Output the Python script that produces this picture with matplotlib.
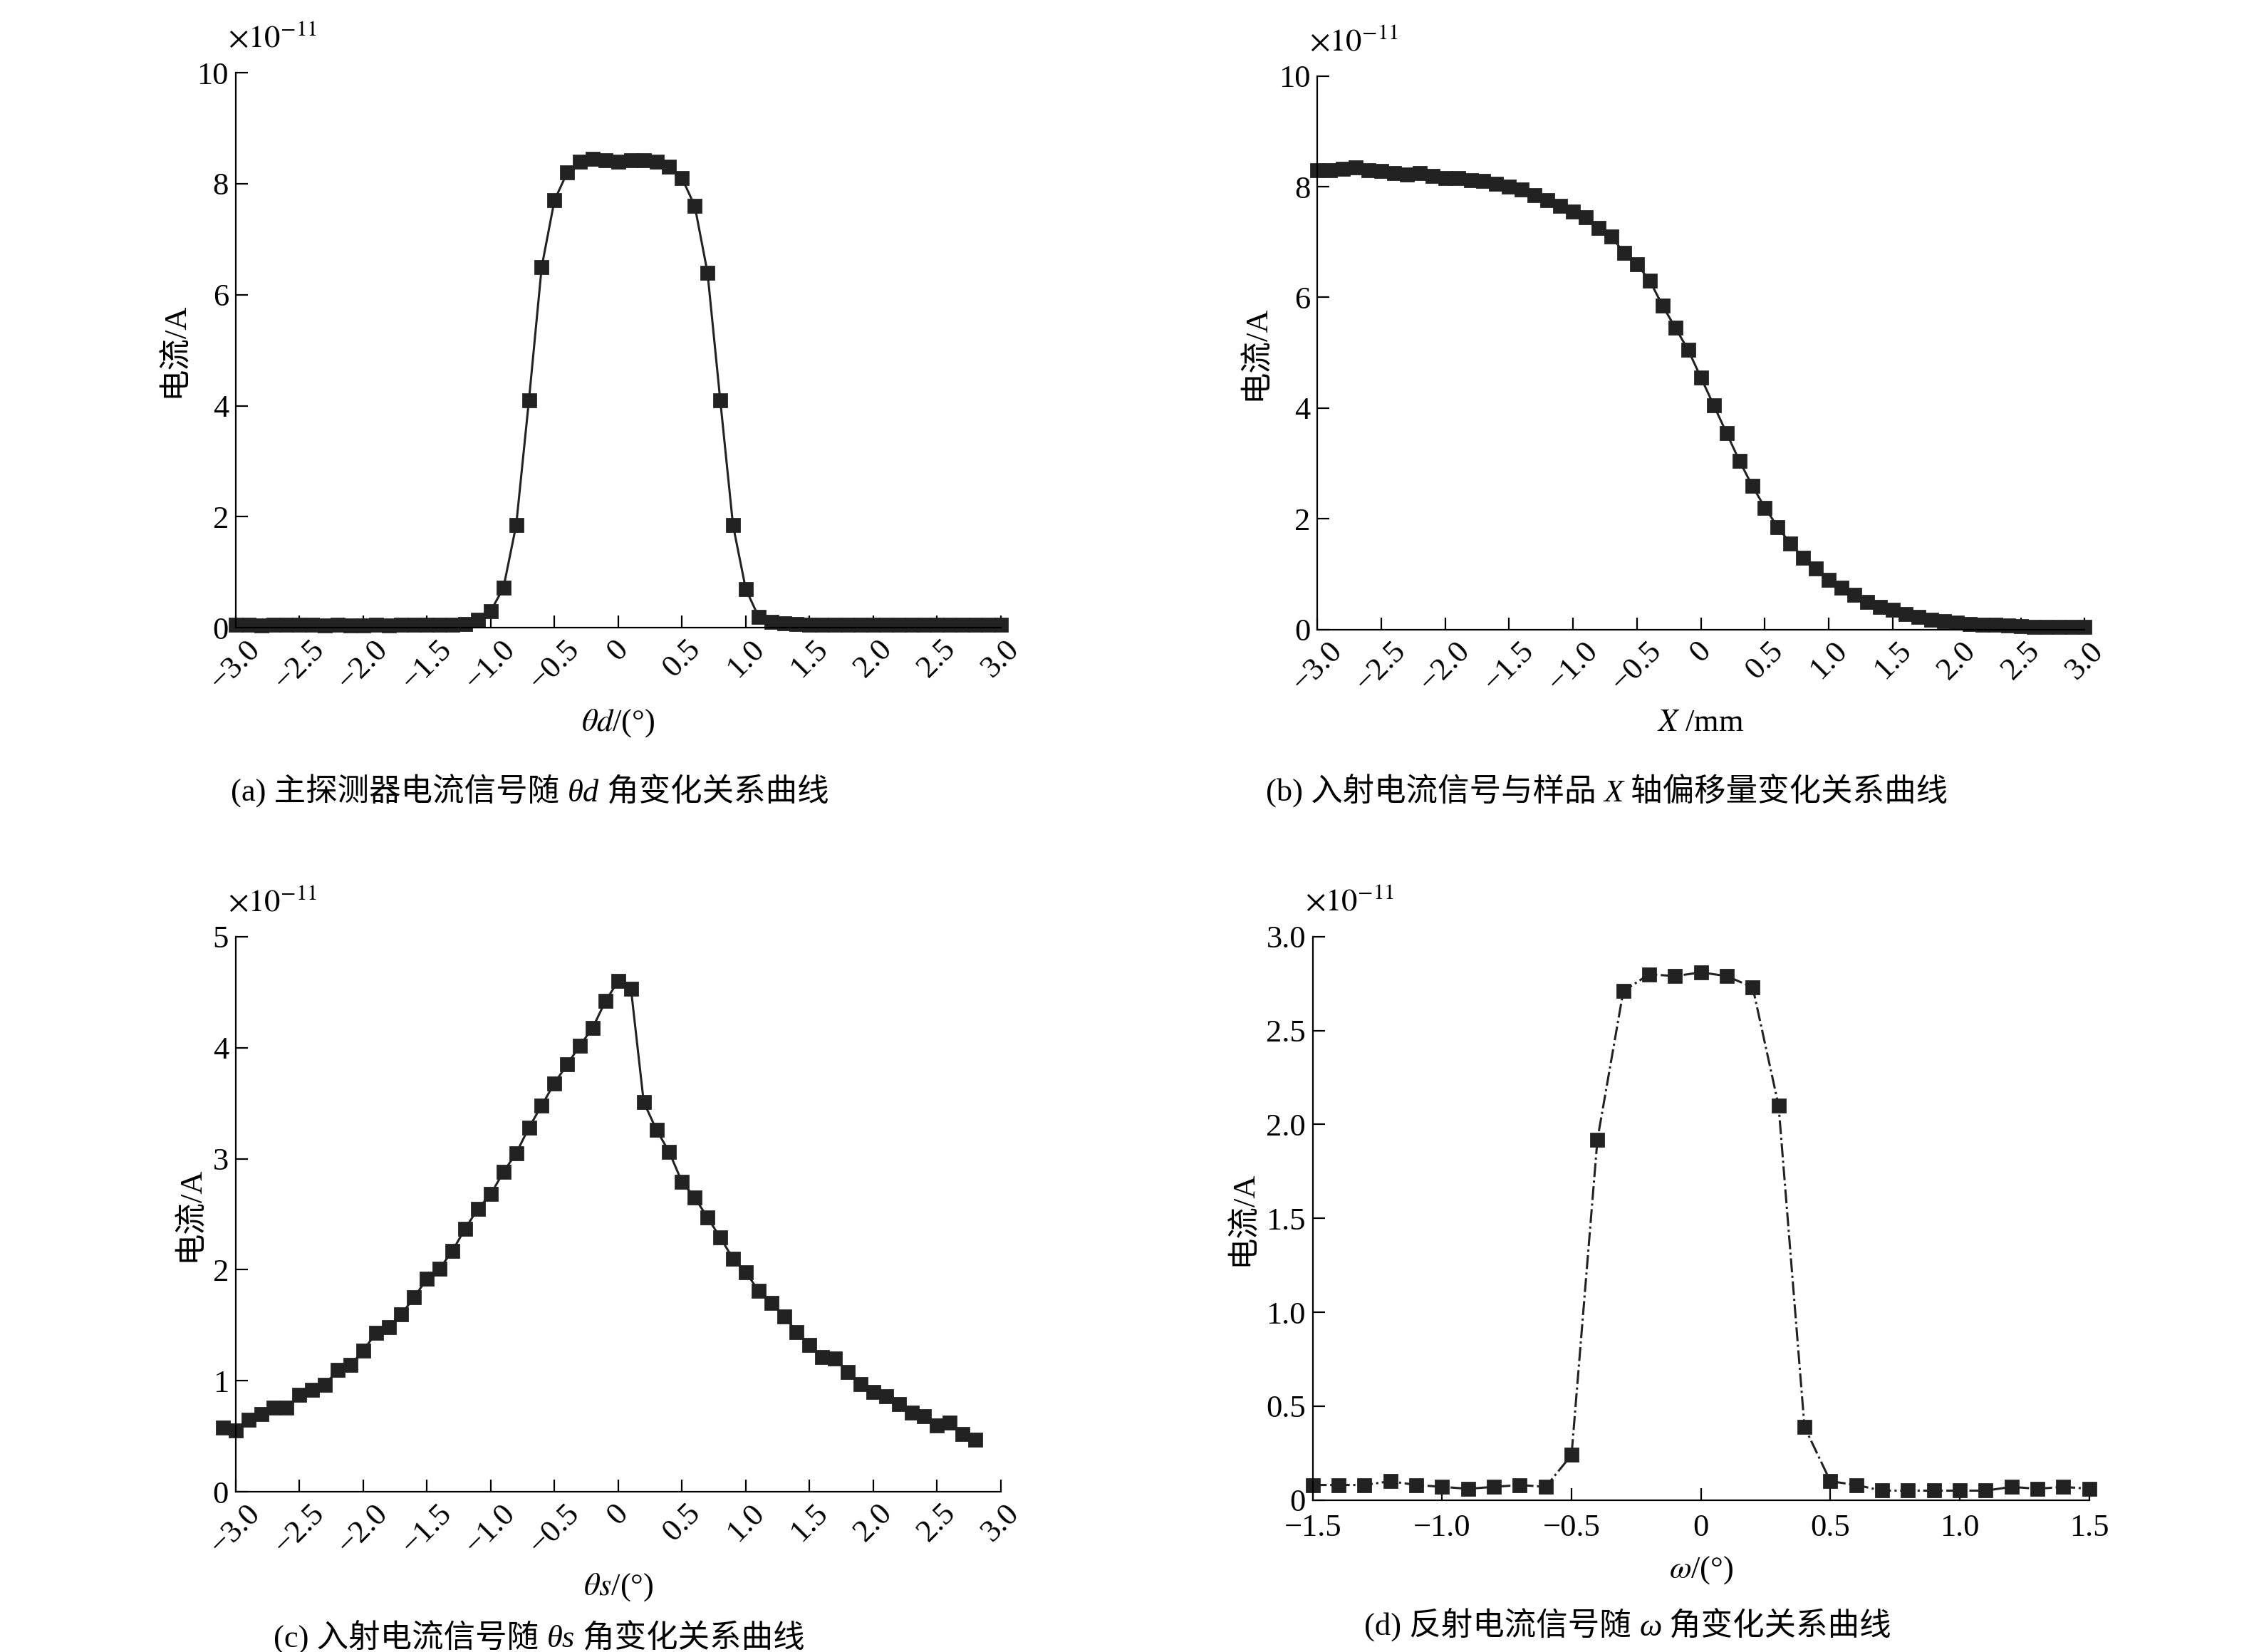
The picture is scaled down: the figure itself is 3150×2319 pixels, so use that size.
import matplotlib
matplotlib.use("Agg")
import matplotlib.pyplot as plt
import numpy as np

plt.rcParams['font.family'] = ['Liberation Serif', 'Noto Sans CJK SC']
plt.rcParams['mathtext.fontset'] = 'stix'
plt.rcParams['axes.unicode_minus'] = True

# (a) theta_d scan
xa = np.round(np.arange(-3.0, 3.01, 0.1), 1)
ya = [0.06, 0.05, 0.04, 0.05, 0.05, 0.06, 0.05, 0.04, 0.05, 0.04, 0.04, 0.05, 0.04, 0.05, 0.05, 0.05, 0.06, 0.05, 0.07,
      0.15, 0.3, 0.72, 1.85, 4.1, 6.5, 7.7, 8.2, 8.4, 8.45, 8.42, 8.4, 8.42, 8.42, 8.4, 8.3, 8.1, 7.6, 6.4, 4.1, 1.85,
      0.7, 0.2, 0.1, 0.08, 0.07, 0.06, 0.05, 0.05, 0.05, 0.05, 0.05, 0.05, 0.05, 0.05, 0.05, 0.05, 0.05, 0.06, 0.06, 0.05, 0.05]

# (b) X offset scan
xb = np.round(np.arange(-3.0, 3.01, 0.1), 1)
yb = [8.3, 8.3, 8.32, 8.35, 8.3, 8.28, 8.25, 8.22, 8.25, 8.2, 8.15, 8.15, 8.12, 8.1, 8.05, 8.0, 7.95, 7.85, 7.75, 7.65,
      7.55, 7.45, 7.25, 7.1, 6.8, 6.6, 6.3, 5.85, 5.45, 5.05, 4.55, 4.05, 3.55, 3.05, 2.6, 2.2, 1.85, 1.55, 1.3, 1.1,
      0.9, 0.75, 0.62, 0.5, 0.4, 0.35, 0.28, 0.22, 0.18, 0.15, 0.12, 0.1, 0.09, 0.08, 0.07, 0.06, 0.05, 0.05, 0.05, 0.05, 0.04]

# (c) theta_s scan
xc = np.round(np.arange(-3.1, 2.81, 0.1), 1)
yc = [0.58, 0.55, 0.65, 0.70, 0.76, 0.76, 0.87, 0.92, 0.96, 1.10, 1.14, 1.27, 1.43, 1.48, 1.60, 1.75, 1.92, 2.01, 2.17,
      2.37, 2.55, 2.68, 2.88, 3.05, 3.28, 3.48, 3.68, 3.85, 4.02, 4.18, 4.42, 4.60, 4.53, 3.51, 3.26, 3.06, 2.79, 2.65,
      2.47, 2.29, 2.10, 1.98, 1.81, 1.70, 1.58, 1.44, 1.32, 1.21, 1.20, 1.08, 0.97, 0.90, 0.86, 0.79, 0.71, 0.68, 0.60,
      0.62, 0.52, 0.47]

# (d) omega scan
xd = np.round(np.arange(-1.5, 1.51, 0.1), 1)
yd = [0.08, 0.08, 0.08, 0.10, 0.08, 0.07, 0.06, 0.07, 0.08, 0.07, 0.24, 1.92, 2.71, 2.80, 2.79, 2.81, 2.79, 2.73, 2.10,
      0.39, 0.10, 0.08, 0.05, 0.05, 0.05, 0.05, 0.05, 0.07, 0.06, 0.07, 0.06]

# caption pieces: (prefix, italic variable, suffix)
captions = [("(a) 主探测器电流信号随 ", "θd", " 角变化关系曲线"),
            ("(b) 入射电流信号与样品 ", "X", " 轴偏移量变化关系曲线"),
            ("(c) 入射电流信号随 ", "θs", " 角变化关系曲线"),
            ("(d) 反射电流信号随 ", "ω", " 角变化关系曲线")]
xlabels = ["$\\theta d$/(°)", "$X$ /mm", "$\\theta s$/(°)", "$\\omega$/(°)"]

fig = plt.figure(figsize=(15.75, 11.595), dpi=200)
boxes = [(0.105, 0.620, 0.341, 0.336), (0.587, 0.619, 0.342, 0.335),
         (0.105, 0.097, 0.341, 0.336), (0.585, 0.092, 0.346, 0.341)]
cap_pos = [(0.103, 0.515), (0.564, 0.515), (0.122, 0.003), (0.608, 0.010)]
data = [(xa, ya), (xb, yb), (xc, yc), (xd, yd)]

def fmt(v):
    if abs(v) < 1e-9:
        return "0"
    return f"{v:.1f}".replace("-", "\u2212")

for i, (box, (x, y)) in enumerate(zip(boxes, data)):
    ax = fig.add_axes(box)
    ls = '-.' if i == 3 else '-'
    ax.plot(x, y, color='#222222', lw=1.1, ls=ls, marker='s', ms=6.5, clip_on=False)
    for s in ['top', 'right']:
        ax.spines[s].set_visible(False)
    ax.tick_params(direction='in', labelsize=16, length=6)
    if i == 3:
        ax.set_xlim(-1.5, 1.5)
        ax.set_ylim(0, 3)
        xt = np.arange(-1.5, 1.51, 0.5)
        ax.set_xticks(xt)
        ax.set_xticklabels([fmt(v) for v in xt])
        ax.tick_params(axis='x', pad=7)
        yt = np.arange(0, 3.01, 0.5)
        ax.set_yticks(yt)
        ax.set_yticklabels([fmt(v) for v in yt])
    else:
        ax.set_xlim(-3, 3)
        xt = np.arange(-3, 3.01, 0.5)
        ax.set_xticks(xt)
        ax.set_xticklabels([fmt(v) for v in xt], rotation=45)
        if i == 2:
            ax.set_ylim(0, 5)
            ax.set_yticks(range(6))
        else:
            ax.set_ylim(0, 10)
            ax.set_yticks(range(0, 11, 2))
    ax.set_ylabel("电流/A", fontsize=16)
    ax.set_xlabel(xlabels[i], fontsize=16, labelpad=6)
    ax.text(-0.01, 1.035, "$\\times 10^{-11}$", transform=ax.transAxes, fontsize=16, va='bottom', ha='left')

    pre, var, suf = captions[i]
    cx, cy = cap_pos[i]
    t1 = fig.text(cx, cy, pre, fontsize=16, ha='left', va='baseline')
    t2 = fig.text(0, 0, var, fontsize=16, fontstyle='italic', ha='left', va='baseline')
    t3 = fig.text(0, 0, suf, fontsize=16, ha='left', va='baseline')
    fig.canvas.draw()
    inv = fig.transFigure.inverted()
    b1 = inv.transform(t1.get_window_extent().get_points())
    t2.set_position((b1[1][0], cy))
    fig.canvas.draw()
    b2 = inv.transform(t2.get_window_extent().get_points())
    t3.set_position((b2[1][0], cy))

fig.savefig("out.png", dpi=200)
